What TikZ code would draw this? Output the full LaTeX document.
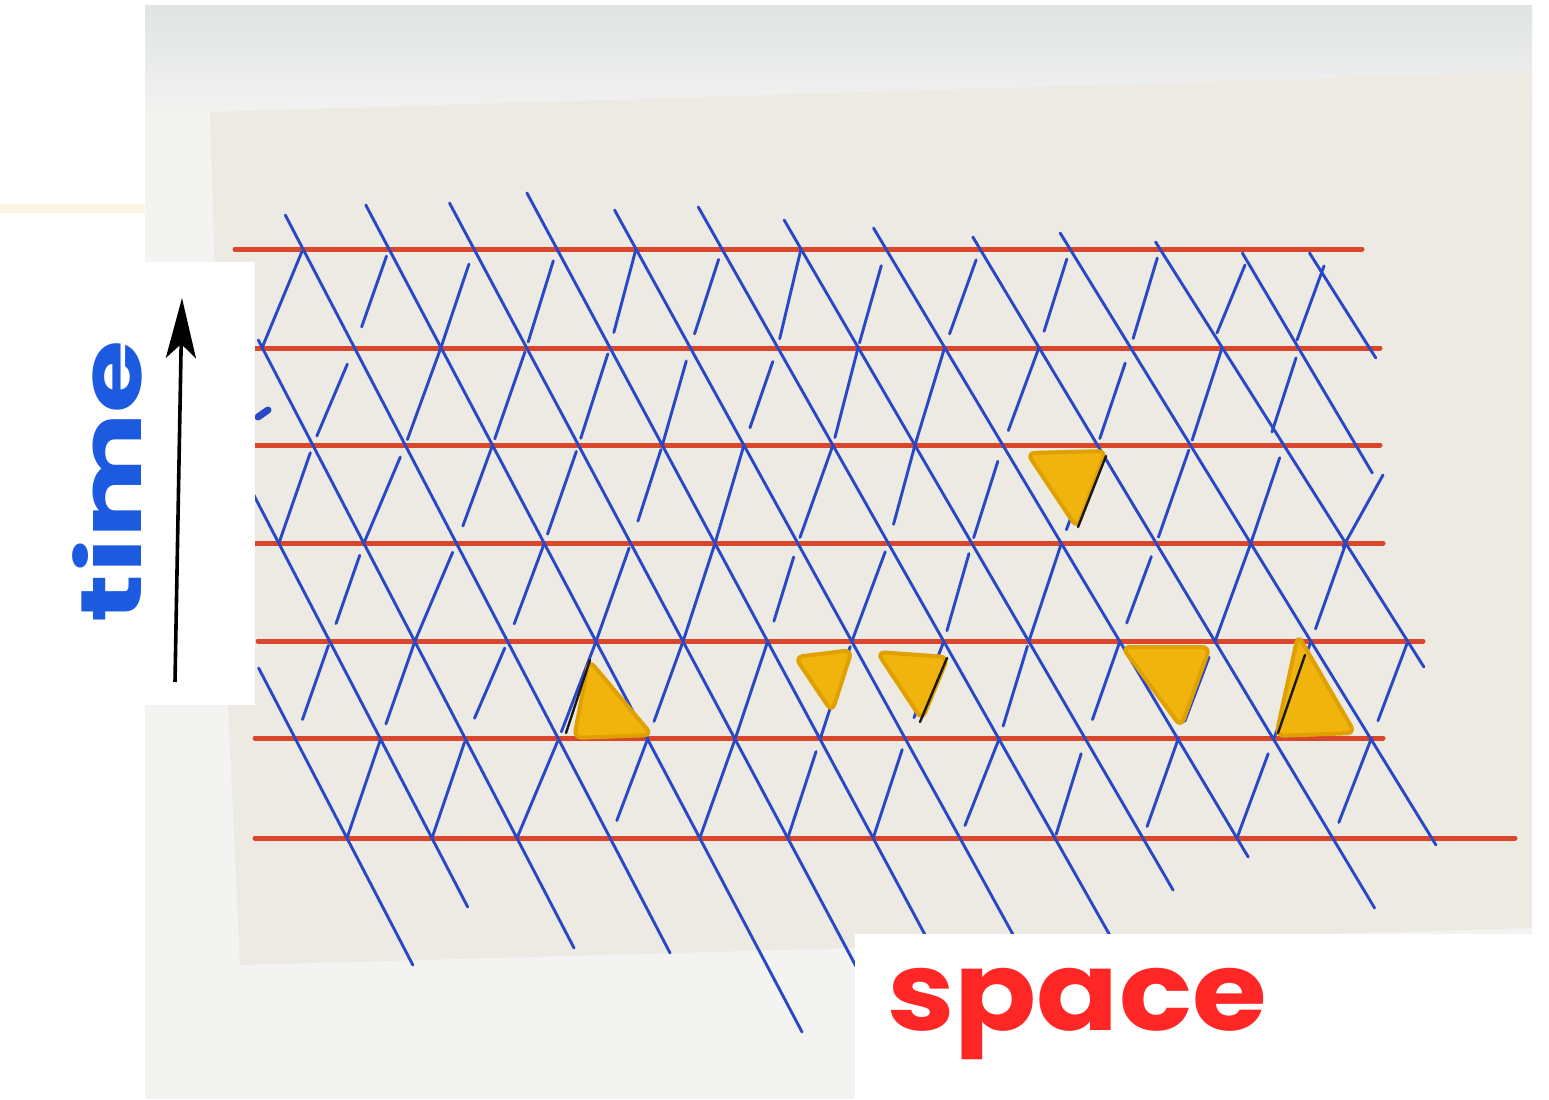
\documentclass[tikz,border=0pt]{standalone}
\usepackage{fontspec}
\newfontfamily\handfont{Poppins}
\usetikzlibrary{calc,arrows.meta}
\definecolor{paper}{HTML}{F3F3F1}
\definecolor{papertop}{HTML}{E0E4E4}
\definecolor{board}{HTML}{ECEAE3}
\definecolor{redline}{HTML}{DA462B}
\definecolor{blueline}{HTML}{2848C8}
\definecolor{markeryellow}{HTML}{F0B40C}
\definecolor{markeredge}{HTML}{E0A000}
\definecolor{timeblue}{HTML}{1C5BE0}
\definecolor{spacered}{HTML}{FF2626}
\definecolor{cream}{HTML}{FAF6E4}
\begin{document}
\begin{tikzpicture}[x=0.5pt,y=-0.5pt,
  redstroke/.style={draw=redline,line width=2.5pt,line cap=round},
  bluestroke/.style={draw=blueline,line width=1.45pt,line cap=round},
  hilite/.style={fill=markeryellow,draw=markeredge,line width=2pt,rounded corners=4pt,line join=round},
  blackstroke/.style={draw=black!90,line width=1.2pt,line cap=round},
  panel/.style={fill=white,draw=none}]
\useasboundingbox (0,0) rectangle (1549,1099);
\fill[white] (0,0) rectangle (1549,1099);
\fill[cream] (0,204) rectangle (145,213);
% paper
\fill[paper] (145,5) rectangle (1532,1099);
\shade[top color=papertop,bottom color=paper] (145,5) rectangle (1532,120);
% board
\fill[board] (210,112) -- (1532,72) -- (1532,928) -- (855,948) -- (240,965) -- (228,705) -- cycle;
% red time slices
\foreach \y/\xa/\xb in {249/235/1362,348/255/1380,445/255/1380,543/255/1383,641/258/1423,738/255/1383,838/255/1515}
  \draw[redstroke] (\xa,\y) -- (\xb,\y);
% data of the long blue strokes
\def\XA{{41,126,211,303,389,474,557,636,722,801,886,980,1070,1160,1240,1307}}
\def\DA{{51,51,51,51.2,51.8,52.3,52.7,54,55.5,57,58.5,58.8,60.3,62,58,62}}
\def\RY{{249,348,445,543,641,738,838}}
\foreach \X/\D/\ys/\ye in {41/51/668/965,126/51/490/907,211/51/340/948,303/51.2/215/953,389/51.8/205/1032,474/52.3/203/1000,557/52.7/193/1000,636/54/210/1000,722/55.5/207/1000,801/57/220/890,886/58.5/228/857,980/58.8/237/908,1070/60.3/233/845,1160/62/242/667,1240/58/253/473,1307/62/253/358}
  \draw[bluestroke] ({\X+\D*((\ys-249)/98.2)},\ys) -- ({\X+\D*((\ye-249)/98.2)},\ye);
% short blue strokes
\pgfmathsetseed{23}
\foreach \k/\nlo/\nhi in {0/2/12,1/2/12,2/1/12,3/1/12,4/0/12,5/0/11}{
  \foreach \n in {\nlo,...,\nhi}{
    \pgfmathsetmacro\px{\XA[\n]+\DA[\n]*(\k+1)}
    \pgfmathsetmacro\py{\RY[\k+1]}
    \pgfmathsetmacro\qx{\XA[\n+1]+\DA[\n+1]*\k}
    \pgfmathsetmacro\qy{\RY[\k]}
    \pgfmathsetmacro\ta{max(0,0.3*rnd-0.07)}
    \pgfmathsetmacro\tb{min(1,1.07-0.24*rnd)}
    \draw[bluestroke] ($(\px,\py)!\ta!(\qx,\qy)$) -- ($(\px,\py)!\tb!(\qx,\qy)$);
  }
}
\draw[bluestroke] (1217,333) -- (1245,265);
\draw[bluestroke] (1297,340) -- (1324,266);
\draw[bluestroke] (1272,432) -- (1296,358);
\draw[bluestroke] (1343,547) -- (1383,475);
\draw[draw=blueline,line width=3.5pt,line cap=round] (258,417) -- (268,410);
% highlighted triangles
\filldraw[hilite] (1027,453) -- (1106,451) -- (1077,528) -- cycle;
\draw[blackstroke] (1106,456) -- (1078,527);
\filldraw[hilite] (589,660) -- (574,738) -- (652,735) -- cycle;
\draw[blackstroke] (590,660) -- (566,733);
\filldraw[hilite] (795,657) -- (852,650) -- (832,712) -- cycle;
\filldraw[hilite] (877,652) -- (948,657) -- (922,720) -- cycle;
\draw[blackstroke] (947,658) -- (920,722);
\filldraw[hilite] (1122,647) -- (1210,647) -- (1181,727) -- cycle;
\filldraw[hilite] (1298,635) -- (1276,736) -- (1355,733) -- cycle;
\draw[blackstroke] (1305,655) -- (1278,733);
% label panels
\fill[panel] (5,262) rectangle (255,705);
\fill[panel] (855,934) rectangle (1535,1099);
\node[rotate=90,anchor=base,text=timeblue,font=\handfont\bfseries\fontsize{43pt}{43pt}\selectfont,inner sep=0pt] (timelabel) at (141,481) {\scalebox{1.38}[1]{time}};
\coordinate (arrowtail) at (175,682);
\coordinate (arrowtip) at (182,298);
\draw[line width=1.8pt,-{Stealth[length=30pt,width=15pt,inset=7pt]}] (arrowtail) -- (arrowtip);
\node[anchor=base,text=spacered,font=\handfont\bfseries\fontsize{55pt}{55pt}\selectfont,inner sep=0pt] (spacelabel) at (1077,1030) {\scalebox{1.1}[1]{space}};
\end{tikzpicture}
\end{document}
